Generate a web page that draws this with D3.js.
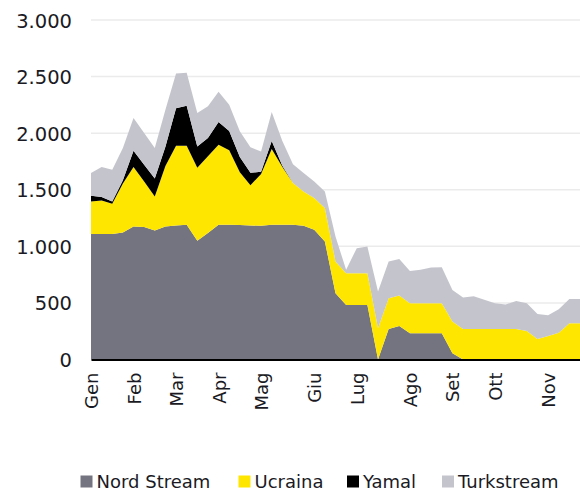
<!DOCTYPE html>
<html>
<head>
<meta charset="utf-8">
<script src="https://cdn.jsdelivr.net/npm/d3@7"></script>
<style>
  body { margin: 0; background: #fff; }
  svg text { font-family: "DejaVu Sans", Verdana, sans-serif; fill: #1a1a24; }
</style>
</head>
<body>
<div id="chart"></div>
<script>
// weekly flows, one value per week (47 weeks)
const nordStream = [1108,1108,1108,1122,1175,1170,1140,1175,1184,1190,1049,1117,1190,1190,1188,1184,
  1181,1190,1190,1190,1181,1146,1043,586,482,482,482,
  0,270,296,232,232,232,232,55,0,0,0,0,0,0,0,0,0,0,0,0];
const ucraina = [288,297,268,433,525,403,301,535,705,699,646,678,708,660,467,356,
  459,670,510,369,304,281,295,280,281,281,281,
  276,272,269,265,265,265,265,280,270,270,270,270,270,270,252,181,208,237,320,320];
const yamal = [51,30,20,30,145,147,159,170,331,354,188,163,201,170,135,110,
  20,70,12,0,0,0,0,0,0,0,0,
  0,0,0,0,0,0,0,0,0,0,0,0,0,0,0,0,0,0,0,0];
const turkstream = [201,266,281,284,289,282,269,328,307,290,296,279,266,232,226,225,
  179,258,218,166,163,147,147,221,29,221,235,
  324,323,322,286,295,315,319,280,277,289,257,227,215,248,245,222,183,207,215,215];

const seriesNames = ["Nord Stream", "Ucraina", "Yamal", "Turkstream"];
const seriesColors = ["#747480", "#FFE600", "#000000", "#C4C4CD"];

const monthLabels = ["Gen","Feb","Mar","Apr","Mag","Giu","Lug","Ago","Set","Ott","Nov"];
const monthWeeks = [0,4,8,12,16,21,25,30,34,38,43];

const yTicks = [0,500,1000,1500,2000,2500,3000];

const width = 580, height = 491;
const margin = { top: 20, right: 0, bottom: 131.5, left: 91 };

const svg = d3.select("#chart").append("svg")
  .attr("width", width)
  .attr("height", height);

const rows = nordStream.map((d, i) => ({
  week: i,
  "Nord Stream": d,
  "Ucraina": ucraina[i],
  "Yamal": yamal[i],
  "Turkstream": turkstream[i]
}));

const x = d3.scalePoint()
  .domain(rows.map(d => d.week))
  .range([margin.left, width - margin.right]);

const y = d3.scaleLinear()
  .domain([0, 3000])
  .range([height - margin.bottom, margin.top]);

const it = d3.formatLocale({ decimal: ",", thousands: ".", grouping: [3], currency: ["", "€"] });
const fmt = it.format(",");

// gridlines
svg.append("g")
  .selectAll("line")
  .data(yTicks.filter(d => d > 0))
  .join("line")
  .attr("x1", margin.left)
  .attr("x2", width - margin.right)
  .attr("y1", d => y(d))
  .attr("y2", d => y(d))
  .attr("stroke", "#ebebeb")
  .attr("stroke-width", 1.5);

// stacked areas
const stack = d3.stack().keys(seriesNames);
const layers = stack(rows);

const area = d3.area()
  .x(d => x(d.data.week))
  .y0(d => y(d[0]))
  .y1(d => y(d[1]));

svg.append("g")
  .selectAll("path")
  .data(layers)
  .join("path")
  .attr("fill", (d, i) => seriesColors[i])
  .attr("d", area);

// y axis
const yAxis = svg.append("g")
  .attr("transform", `translate(${margin.left},0)`)
  .call(d3.axisLeft(y).tickValues(yTicks).tickFormat(fmt).tickSize(0).tickPadding(19));
yAxis.select(".domain").remove();
yAxis.selectAll("text")
  .attr("font-size", "19.5px")
  .attr("font-family", "DejaVu Sans, sans-serif")
  .attr("fill", "#1a1a24")
  .attr("dy", "0.36em");

// x axis
const xAxis = svg.append("g")
  .attr("transform", `translate(0,${y(0)})`)
  .call(d3.axisBottom(x).tickValues(monthWeeks).tickFormat((d, i) => monthLabels[i]).tickSize(0));
xAxis.select(".domain").attr("stroke", "#000").attr("stroke-width", 2.2);
xAxis.selectAll("text")
  .attr("font-size", "18px")
  .attr("font-family", "DejaVu Sans, sans-serif")
  .attr("fill", "#1a1a24")
  .attr("transform", "rotate(-90)")
  .attr("x", -13)
  .attr("y", 0)
  .attr("dy", "0.36em")
  .style("text-anchor", "end");

// legend
const legendX = [80.5, 238.5, 347, 442];
const legend = svg.append("g")
  .selectAll("g")
  .data(seriesNames)
  .join("g")
  .attr("transform", (d, i) => `translate(${legendX[i]},475.5)`);

legend.append("rect")
  .attr("width", 12)
  .attr("height", 12)
  .attr("fill", (d, i) => seriesColors[i]);

legend.append("text")
  .attr("x", 16)
  .attr("y", 12.3)
  .attr("font-size", "18px")
  .text(d => d);
</script>
</body>
</html>
